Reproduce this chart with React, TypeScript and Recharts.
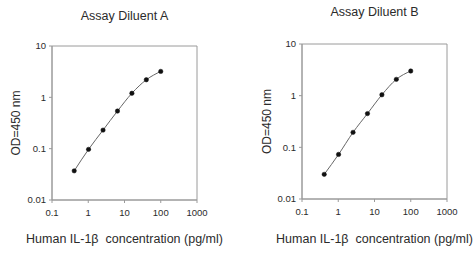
import {
  LineChart,
  Line,
  XAxis,
  YAxis,
  ReferenceArea,
  Label,
} from 'recharts';

// pg/ml standards (2.5-fold dilution series)
const concentrations = [0.41, 1.02, 2.56, 6.4, 16, 40, 100];
const odDiluentA = [0.037, 0.097, 0.23, 0.54, 1.2, 2.2, 3.2];
const odDiluentB = [0.03, 0.073, 0.195, 0.45, 1.04, 2.07, 3.0];
const xTicks = [0.1, 1, 10, 100, 1000];
const yTicks = [0.01, 0.1, 1, 10];

const FONT = '"Liberation Sans", Arial, sans-serif';
const TEXT = '#2b2b2b';
const AXIS = '#9a9a9a';

interface PanelProps {
  title: string;
  values: number[];
  left: number;
  margin: { top: number; right: number; bottom: number; left: number };
  titleTop: number;
  yLabelOffset: number;
  xLabelOffset: number;
}

const Panel = ({ title, values, left, margin, titleTop, yLabelOffset, xLabelOffset }: PanelProps) => {
  const data = concentrations.map((c, i) => ({ conc: c, od: values[i] }));
  const plotLeft = margin.left + 40;
  const plotWidth = 237 - plotLeft - margin.right;

  return (
    <div style={{ position: 'absolute', left, top: 0, width: 237, height: 253 }}>
      <div
        style={{
          position: 'absolute',
          left: plotLeft - 20,
          width: plotWidth + 40,
          top: titleTop,
          textAlign: 'center',
          fontFamily: FONT,
          fontSize: 12.5,
          lineHeight: '15px',
          color: TEXT,
        }}
      >
        {title}
      </div>
      <LineChart width={237} height={253} data={data} margin={margin}>
        <XAxis
          dataKey="conc"
          type="number"
          scale="log"
          domain={[0.1, 1000]}
          ticks={xTicks}
          allowDataOverflow
          height={45}
          tickSize={3}
          tickMargin={6}
          stroke={AXIS}
          tick={{ fill: TEXT, fontSize: 9.5, fontFamily: FONT }}
        >
          <Label
            value={'Human IL-1β\u00a0 concentration (pg/ml)'}
            position="insideBottom"
            offset={xLabelOffset}
            fill={TEXT}
            fontSize={12.5}
            fontFamily={FONT}
          />
        </XAxis>
        <YAxis
          type="number"
          scale="log"
          domain={[0.01, 10]}
          ticks={yTicks}
          allowDataOverflow
          width={40}
          tickSize={3}
          tickMargin={3}
          stroke={AXIS}
          tick={{ fill: TEXT, fontSize: 9.5, fontFamily: FONT }}
        >
          <Label
            value="OD=450 nm"
            angle={-90}
            position="insideLeft"
            offset={yLabelOffset}
            textAnchor="middle"
            fill={TEXT}
            fontSize={12}
            fontFamily={FONT}
          />
        </YAxis>
        <ReferenceArea
          x1={0.1}
          x2={1000}
          y1={0.01}
          y2={10}
          fill="none"
          stroke={AXIS}
          strokeWidth={1}
          ifOverflow="visible"
        />
        <Line
          type="monotone"
          dataKey="od"
          stroke="#666"
          strokeWidth={1}
          dot={{ r: 2.2, fill: '#111', stroke: '#111', strokeWidth: 0.5 }}
          isAnimationActive={false}
        />
      </LineChart>
    </div>
  );
};

const App = () => (
  <div style={{ position: 'absolute', left: 0, top: 0, width: 474, height: 253, background: '#fff' }}>
    <Panel
      title="Assay Diluent A"
      values={odDiluentA}
      left={0}
      margin={{ top: 46, right: 40, bottom: 8, left: 12 }}
      titleTop={9}
      yLabelOffset={4}
      xLabelOffset={2}
    />
    <Panel
      title="Assay Diluent B"
      values={odDiluentB}
      left={237}
      margin={{ top: 44, right: 27, bottom: 9, left: 25 }}
      titleTop={5}
      yLabelOffset={5}
      xLabelOffset={1}
    />
  </div>
);

export default App;
